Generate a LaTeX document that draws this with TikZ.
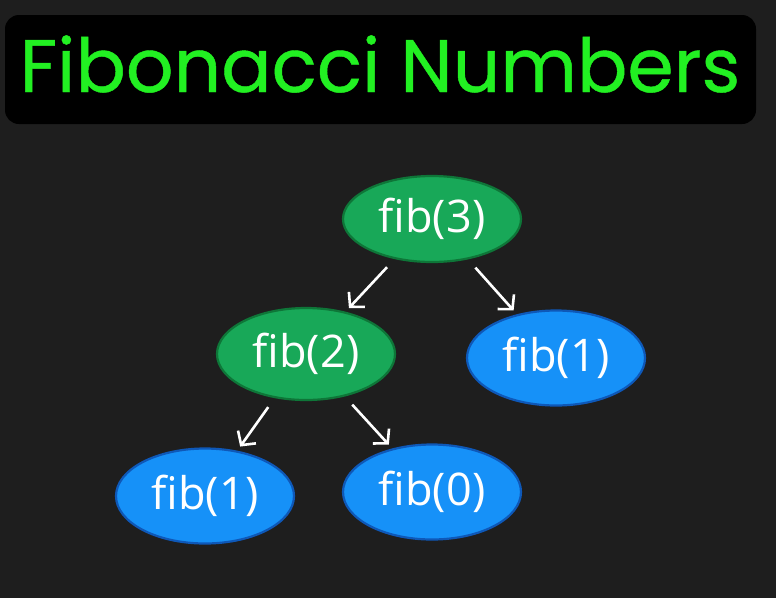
\documentclass[tikz,border=0pt]{standalone}
\usepackage{fontspec}
\newfontfamily\titlefont[FakeBold=0.6]{Poppins}
\newfontfamily\nodefont{Open Sans}
\usetikzlibrary{shapes.geometric,arrows.meta}
\definecolor{bgdark}{RGB}{30,30,30}
\definecolor{titlegreen}{RGB}{34,240,34}
\definecolor{callfill}{RGB}{24,168,88}
\definecolor{callline}{RGB}{14,118,56}
\definecolor{basefill}{RGB}{22,145,248}
\definecolor{baseline}{RGB}{14,88,184}
\tikzset{
  callnode/.style={ellipse, draw=callline, fill=callfill, line width=2.2pt,
    inner sep=0pt, minimum width=178pt, minimum height=86pt,
    text=white, font=\nodefont\fontsize{45}{50}\selectfont},
  basenode/.style={callnode, draw=baseline, fill=basefill, minimum height=95pt},
  callarrow/.style={draw=white, line width=2.6pt,
    -{Straight Barb[length=10pt,width=22pt]},
    shorten <=11pt, shorten >=5pt}
}
\begin{document}
\begin{tikzpicture}[x=1pt,y=-1pt]
  % canvas
  \fill[bgdark] (0,0) rectangle (776,598);
  \useasboundingbox (0,0) rectangle (776,598);
  % heading panel
  \fill[black, rounded corners=14pt] (5,15) rectangle (756,124);
  \node[anchor=base, text=titlegreen, inner sep=0pt,
        font=\titlefont\fontsize{74.5}{80}\selectfont] (title) at (380,92) {Fibonacci Numbers};
  % recursion tree
  \node[callnode] (f3) at (432,219) {fib(3)};
  \node[callnode, minimum height=92pt] (f2) at (306,354) {fib(2)};
  \node[basenode] (f1r) at (556,358) {fib(1)};
  \node[basenode] (f1l) at (205,496) {fib(1)};
  \node[basenode] (f0) at (432,492) {fib(0)};
  \draw[callarrow] (f3) -- (f2);
  \draw[callarrow] (f3) -- (f1r);
  \draw[callarrow] (f2) -- (f1l);
  \draw[callarrow] (f2) -- (f0);
\end{tikzpicture}
\end{document}
